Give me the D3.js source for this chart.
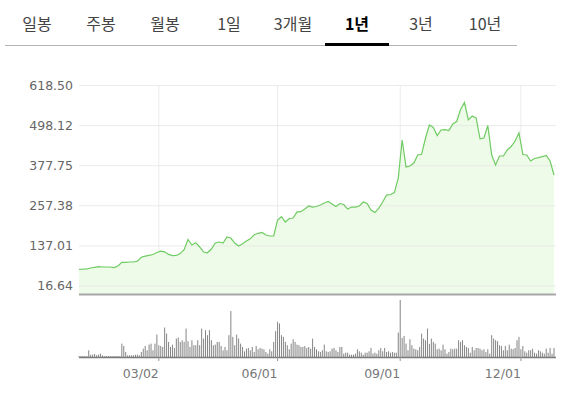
<!DOCTYPE html>
<html>
<head>
<meta charset="utf-8">
<script src="https://cdn.jsdelivr.net/npm/d3@7.9.0/dist/d3.min.js"></script>
<style>
  body { margin: 0; background: #fff; }
  svg { display: block; }
  .ylab text { font-family: "DejaVu Sans", sans-serif; font-size: 12.5px; fill: #666; }
</style>
</head>
<body>
<svg id="chart" width="563" height="394"></svg>
<script>
// === data ===
const tabs = ['일봉', '주봉', '월봉', '1일', '3개월', '1년', '3년', '10년'];
const activeTab = '1년';

const priceTicks = [16.64, 137.01, 257.38, 377.75, 498.12, 618.50];
const dateTicks = [41, 102, 165, 227];          // trading-day index
const dateLabels = ['03/02', '06/01', '09/01', '12/01'];

// closing price, one value every 2nd trading day
const price = [
  65.3, 65.9, 66.8, 69.2, 71.3, 73.1, 72.2, 72.2, 72.2, 70.4,
  75.2, 86.0, 86.3, 87.2, 87.2, 89.6, 101.3, 104.6, 107.3, 109.7,
  115.7, 119.6, 117.8, 110.0, 106.4, 106.7, 112.4, 124.4, 155.0, 138.2,
  145.1, 132.2, 117.2, 114.8, 126.2, 144.2, 147.2, 144.2, 162.2, 159.2,
  144.2, 135.2, 141.8, 150.2, 156.8, 168.8, 173.3, 176.0, 168.2, 165.2,
  165.2, 213.2, 223.2, 207.2, 217.7, 219.2, 237.8, 238.1, 246.2, 255.2,
  252.2, 253.7, 258.2, 264.2, 268.7, 261.2, 253.7, 262.7, 259.7, 246.2,
  252.2, 252.2, 255.2, 267.2, 262.7, 243.2, 235.7, 249.2, 267.2, 288.2,
  289.7, 295.7, 339.2, 453.4, 372.4, 375.4, 384.4, 408.4, 410.5, 459.4,
  498.4, 490.9, 466.9, 483.4, 484.6, 481.6, 501.4, 508.9, 544.9, 565.9,
  513.9, 525.4, 519.4, 457.0, 459.4, 496.9, 408.4, 378.4, 405.4, 405.4,
  423.4, 433.9, 450.4, 474.4, 409.8, 408.4, 390.4, 397.9, 400.3, 403.3,
  406.9, 390.4, 348.3
];

// daily volume (relative)
const volume = [
  1, 1, 1, 1, 1, 6.7, 2.3, 2.3, 3, 1.7,
  2.3, 3.3, 1.7, 1, 1, 1, 1, 1, 1, 1,
  1, 1, 13.3, 11, 5, 1.7, 1.7, 1.7, 1.7, 2.3,
  2.3, 1.7, 5, 8.3, 11, 6.7, 12.3, 13.3, 6.7, 13.3,
  22.3, 11.7, 11, 10, 29.3, 23.3, 15, 10, 12.3, 9,
  18.3, 19.3, 15, 16.7, 15, 28.3, 15.7, 10, 16.7, 11.7,
  11.7, 16.7, 11.7, 28.3, 18.3, 26.7, 21.7, 26.7, 16.7, 11.7,
  12.3, 15, 15, 11, 6.7, 10, 6.7, 21.7, 45.7, 20,
  11.7, 22.3, 18.3, 13.3, 10, 5.7, 8.3, 9, 6.7, 10,
  5, 11, 7.7, 9, 8.3, 7.7, 5, 3.3, 7.7, 5.7,
  15, 25.7, 35, 33.3, 21.7, 20, 15, 11.7, 7.7, 13.3,
  17.7, 15, 12.3, 11.7, 10, 10, 11, 9, 10, 8.3,
  18.3, 10, 7.7, 5.7, 5, 6.7, 12.3, 5.7, 5, 5.7,
  8.3, 9, 6.7, 5, 10, 10, 3.3, 4.3, 4.3, 2.3,
  2.3, 2.3, 3.3, 7.7, 5.7, 4.3, 2.3, 4.3, 4.3, 5.7,
  9, 3.3, 4.3, 3.3, 6.7, 9, 5.7, 9, 5, 5.7,
  4.3, 5, 4.3, 4.3, 24.3, 56.7, 19, 21, 13.3, 6.7,
  17.7, 11.7, 8.3, 7.7, 6.7, 10, 23.3, 18.3, 16.7, 28.3,
  13, 18.3, 15, 13.3, 7.7, 8.3, 6.7, 12.3, 7.7, 3.3,
  5, 8.3, 7.7, 8.3, 8.3, 16.7, 15, 16.7, 11.7, 10,
  9, 4.3, 10, 6.7, 9, 9, 8.3, 6.7, 7.7, 5,
  7.7, 3.3, 21.7, 18.3, 16.7, 15.7, 11.7, 11, 6.7, 11,
  6.7, 12.3, 8.3, 7.7, 9, 16.7, 20, 7.7, 11, 5.7,
  4.3, 6.7, 6.7, 8.3, 4.3, 3.3, 6.7, 5.7, 4.3, 3.3,
  8.3, 4.3, 9, 3.3, 9
];

// === layout ===
const left = 79, right = 554, gridRight = 556;
const priceTop = 85, priceBottom = 294;
const volBase = 357, volTop = 300;

const svg = d3.select('#chart');

// === tabs ===
const tabX = d3.scaleBand().domain(tabs).range([5, 517]);

svg.append('line')
  .attr('x1', 5).attr('x2', 517)
  .attr('y1', 45.5).attr('y2', 45.5)
  .attr('stroke', '#b4b4b4');

svg.append('rect')
  .attr('x', tabX(activeTab))
  .attr('y', 43)
  .attr('width', tabX.bandwidth())
  .attr('height', 3)
  .attr('fill', '#000');

svg.selectAll('.tab')
  .data(tabs)
  .join('text')
  .attr('class', 'tab')
  .attr('x', d => tabX(d) + tabX.bandwidth() / 2)
  .attr('y', 24)
  .attr('dy', '0.35em')
  .attr('text-anchor', 'middle')
  .style('font-family', '"Noto Sans CJK KR", sans-serif')
  .style('font-size', '16px')
  .style('font-weight', d => d === activeTab ? 'bold' : 'normal')
  .style('fill', d => d === activeTab ? '#000' : '#444')
  .text(d => d);

// === scales ===
let x = d3.scaleLinear().domain([0, volume.length - 1]).range([left, right]);
let y = d3.scaleLinear().domain([priceTicks[0], priceTicks[priceTicks.length - 1]]).range([285.5, priceTop]);
let vy = d3.scaleLinear().domain([0, d3.max(volume)]).range([volBase, volTop]);

// price points sit on every 2nd trading day
let pricePts = price.map((p, k) => ({ day: k * 2, value: p }));

// === gridlines ===
svg.append('g')
  .selectAll('line')
  .data(dateTicks)
  .join('line')
  .attr('x1', d => x(d)).attr('x2', d => x(d))
  .attr('y1', priceTop).attr('y2', priceBottom)
  .attr('stroke', '#ececec');

// area under the line
let area = d3.area()
  .x(d => x(d.day))
  .y0(priceBottom)
  .y1(d => y(d.value));

svg.append('path')
  .datum(pricePts)
  .attr('d', area)
  .attr('fill', '#eefbe8');

// y axis with horizontal gridlines
let yAxis = d3.axisLeft(y)
  .tickValues(priceTicks)
  .tickFormat(d3.format('.2f'))
  .tickSize(-(gridRight - left))
  .tickPadding(6);

let yg = svg.append('g')
  .attr('class', 'ylab')
  .attr('transform', `translate(${left},0)`)
  .call(yAxis);
yg.select('.domain').remove();
yg.selectAll('line').attr('stroke', '#e6e6e6').attr('stroke-opacity', 0.8);

// price line
let line = d3.line()
  .x(d => x(d.day))
  .y(d => y(d.value));

svg.append('path')
  .datum(pricePts)
  .attr('d', line)
  .attr('fill', 'none')
  .attr('stroke', '#6fcb63')
  .attr('stroke-width', 1.2);

// bottom border of price panel
svg.append('line')
  .attr('x1', left).attr('x2', gridRight)
  .attr('y1', priceBottom + 0.5).attr('y2', priceBottom + 0.5)
  .attr('stroke', '#a8a8a8')
  .attr('stroke-width', 2);

// === volume ===
svg.append('g')
  .selectAll('rect')
  .data(volume)
  .join('rect')
  .attr('x', (d, i) => x(i) - 0.5)
  .attr('y', d => vy(d))
  .attr('width', 1)
  .attr('height', d => volBase - vy(d))
  .attr('fill', '#858585');

svg.append('line')
  .attr('x1', left).attr('x2', gridRight)
  .attr('y1', volBase + 0.5).attr('y2', volBase + 0.5)
  .attr('stroke', '#7a7a7a')
  .attr('stroke-width', 1.5);

// date ticks and labels
svg.append('g')
  .selectAll('line')
  .data(dateTicks)
  .join('line')
  .attr('x1', d => x(d)).attr('x2', d => x(d))
  .attr('y1', volBase).attr('y2', volBase + 4)
  .attr('stroke', '#999');

svg.append('g')
  .selectAll('text')
  .data(dateTicks)
  .join('text')
  .attr('x', d => x(d))
  .attr('y', 378)
  .attr('text-anchor', 'end')
  .style('font-family', '"DejaVu Sans", sans-serif')
  .style('font-size', '12.5px')
  .style('fill', '#777')
  .text((d, i) => dateLabels[i]);
</script>
</body>
</html>
